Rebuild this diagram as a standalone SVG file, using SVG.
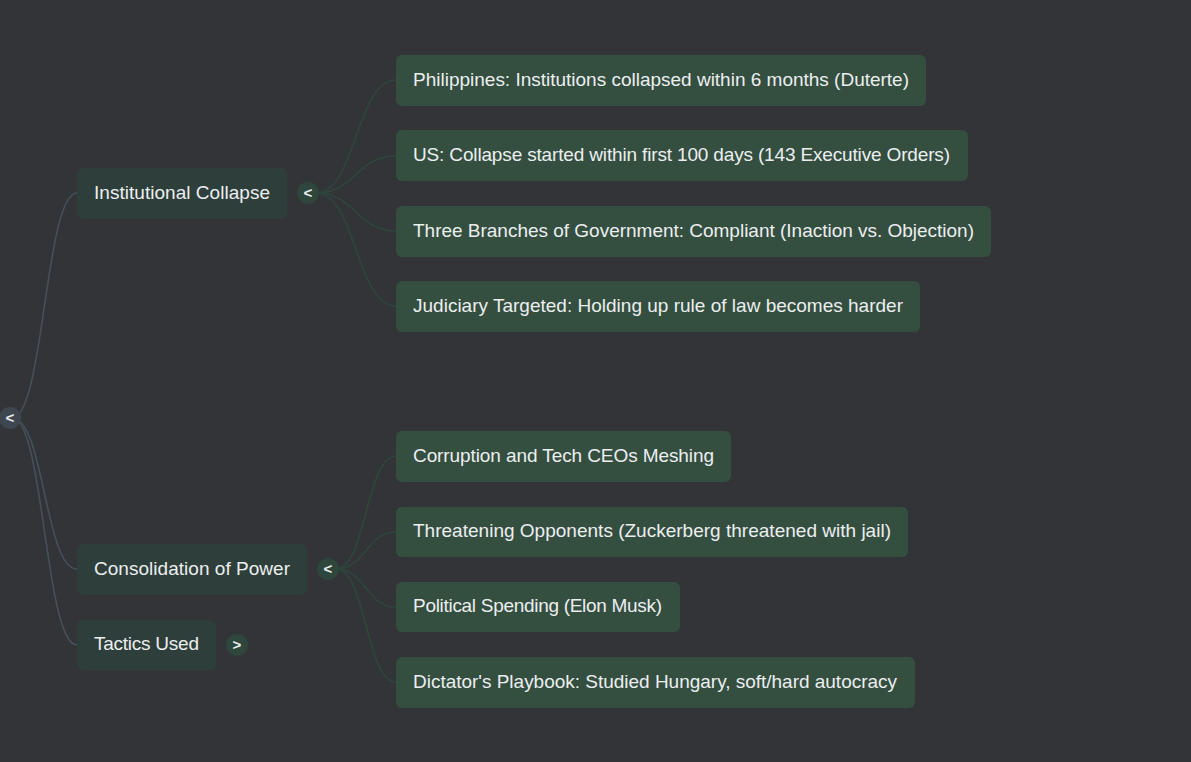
<svg xmlns="http://www.w3.org/2000/svg" width="1191" height="762" viewBox="0 0 1191 762">
<style>
.bg{fill:#323438}
.n1{fill:#2e3e3a}
.n2{fill:#344e40}
.t{font-family:"Liberation Sans",Arial,sans-serif;font-size:19px;fill:#eceef0}
.tg{fill:#2f463c}
.tgr{fill:#3e4650}
.ch{font-family:"Liberation Sans",Arial,sans-serif;font-size:15px;font-weight:bold;fill:#eceef0;text-anchor:middle}
.c0{fill:none;stroke:#46505a;stroke-width:1.6}
.c1{fill:none;stroke:#2f463c;stroke-width:1.6}
</style>
<rect class="bg" x="0" y="0" width="1191" height="762"/>
<g id="connectors">
<path class="c0" d="M12 418 C44 418 45 193 77 193"/>
<path class="c0" d="M12 418 C44 418 45 569 77 569"/>
<path class="c0" d="M12 418 C44 418 45 645 77 645"/>
<path class="c1" d="M316 193 C356 193 356 80 396 80"/>
<path class="c1" d="M316 193 C356 193 356 156 396 156"/>
<path class="c1" d="M316 193 C356 193 356 231 396 231"/>
<path class="c1" d="M316 193 C356 193 356 306 396 306"/>
<path class="c1" d="M336 569 C366 569 366 456 396 456"/>
<path class="c1" d="M336 569 C366 569 366 532 396 532"/>
<path class="c1" d="M336 569 C366 569 366 607 396 607"/>
<path class="c1" d="M336 569 C366 569 366 682 396 682"/>
</g>
<g id="root">
<circle class="tgr" cx="10" cy="418" r="11"/>
<text class="ch" x="10" y="423">&lt;</text>
</g>
<g id="institutional-collapse">
<rect class="n1" x="77" y="168" width="210" height="51" rx="6"/>
<text class="t" x="94" y="199" textLength="176">Institutional Collapse</text>
<circle class="tg" cx="308" cy="193" r="11"/>
<text class="ch" x="308" y="198">&lt;</text>
</g>
<g id="consolidation-of-power">
<rect class="n1" x="77" y="544" width="230" height="51" rx="6"/>
<text class="t" x="94" y="575" textLength="196">Consolidation of Power</text>
<circle class="tg" cx="328" cy="569" r="11"/>
<text class="ch" x="328" y="574">&lt;</text>
</g>
<g id="tactics-used">
<rect class="n1" x="77" y="620" width="139" height="50" rx="6"/>
<text class="t" x="94" y="650" textLength="105">Tactics Used</text>
<circle class="tg" cx="237" cy="645" r="11"/>
<text class="ch" x="237" y="650">&gt;</text>
</g>
<g id="philippines">
<rect class="n2" x="396" y="55" width="530" height="51" rx="6"/>
<text class="t" x="413" y="86" textLength="496">Philippines: Institutions collapsed within 6 months (Duterte)</text>
</g>
<g id="us">
<rect class="n2" x="396" y="130" width="572" height="51" rx="6"/>
<text class="t" x="413" y="161" textLength="537">US: Collapse started within first 100 days (143 Executive Orders)</text>
</g>
<g id="three-branches">
<rect class="n2" x="396" y="206" width="595" height="51" rx="6"/>
<text class="t" x="413" y="237" textLength="561">Three Branches of Government: Compliant (Inaction vs. Objection)</text>
</g>
<g id="judiciary">
<rect class="n2" x="396" y="281" width="524" height="51" rx="6"/>
<text class="t" x="413" y="312" textLength="490">Judiciary Targeted: Holding up rule of law becomes harder</text>
</g>
<g id="corruption">
<rect class="n2" x="396" y="431" width="335" height="51" rx="6"/>
<text class="t" x="413" y="462" textLength="301">Corruption and Tech CEOs Meshing</text>
</g>
<g id="threatening">
<rect class="n2" x="396" y="507" width="512" height="50" rx="6"/>
<text class="t" x="413" y="537" textLength="478">Threatening Opponents (Zuckerberg threatened with jail)</text>
</g>
<g id="political-spending">
<rect class="n2" x="396" y="582" width="284" height="50" rx="6"/>
<text class="t" x="413" y="612" textLength="249">Political Spending (Elon Musk)</text>
</g>
<g id="dictators-playbook">
<rect class="n2" x="396" y="657" width="519" height="51" rx="6"/>
<text class="t" x="413" y="688" textLength="484">Dictator's Playbook: Studied Hungary, soft/hard autocracy</text>
</g>
</svg>
